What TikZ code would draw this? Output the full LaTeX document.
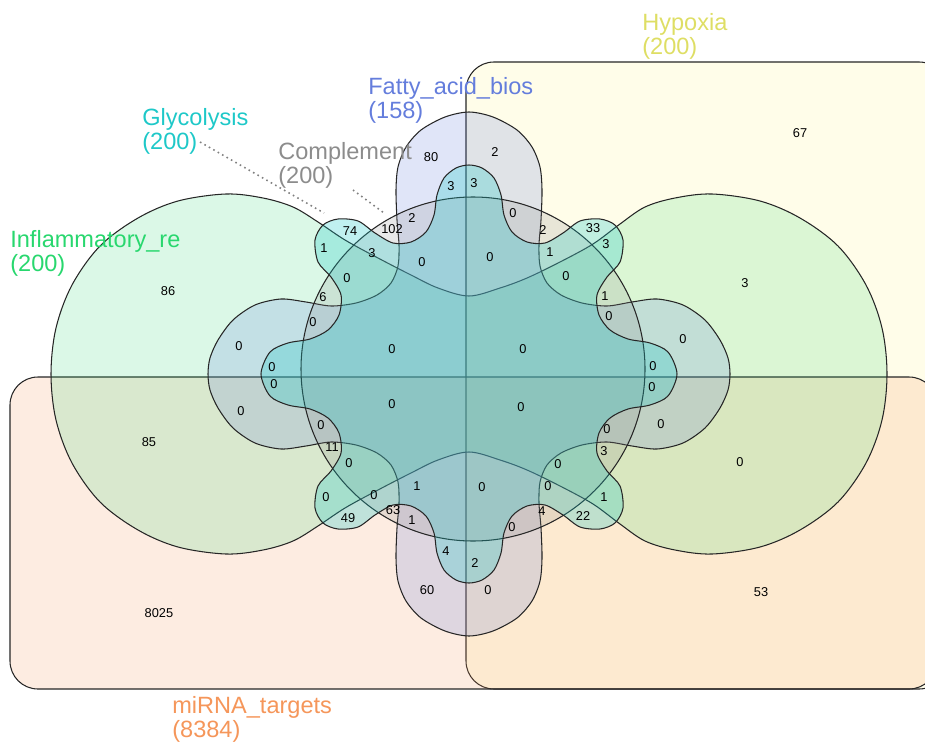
\documentclass[tikz,border=0pt]{standalone}
\usepackage{fontspec}
\setmainfont{Liberation Sans}
\usepackage{xcolor}
\usepackage{tikz}

\definecolor{hypcol}{RGB}{222,222,100}
\definecolor{hypfill}{RGB}{255,240,110}
\definecolor{mircol}{RGB}{245,150,90}
\definecolor{infcol}{RGB}{40,215,110}
\definecolor{fatcol}{RGB}{100,125,220}
\definecolor{glycol}{RGB}{30,200,200}
\definecolor{comcol}{RGB}{140,140,140}

\begin{document}
\begin{tikzpicture}[x=0.02cm,y=-0.02cm,
  num/.style={font=\fontsize{7.3}{8}\selectfont,inner sep=0pt},
  setlabel/.style={anchor=north west,align=left,inner sep=0pt,font=\fontsize{13.4}{11}\selectfont},
  setline/.style={draw=black!85,line width=0.6pt},
  leader/.style={dotted,line width=0.9pt,draw=gray}]
\useasboundingbox (0,0) rectangle (925,743);

\path[setline,fill=hypfill,fill opacity=0.15,rounded corners=0.56cm] (466,62) rectangle (947,689);
\path[setline,fill=mircol,fill opacity=0.18,rounded corners=0.56cm] (10,377) rectangle (937,689);

\path[setline,fill=infcol,fill opacity=0.17] plot[smooth cycle,tension=0.55] coordinates {
(469,296) (500,288) (527,278) (560,262) (593,244) (620,224) (645,207) (675,198) (712,194) (760,201) (800,218) (838,246) (866,285) (882,328)
(887,374)
(882,420) (866,463) (838,502) (800,530) (760,547) (712,554) (675,550) (645,541) (620,524) (593,504) (560,486) (527,470) (500,460)
(469,452)
(438,460) (411,473) (378,490) (345,508) (318,526) (293,541) (263,550) (226,554) (178,547) (138,530) (100,502) (72,463) (56,420)
(51,374)
(56,328) (72,285) (100,246) (138,218) (178,201) (226,194) (263,198) (293,207) (318,222) (345,240) (378,258) (411,275) (438,288)};

\path[setline,fill=fatcol,fill opacity=0.2] plot[smooth cycle,tension=0.5] coordinates {
(469,112) (493,117) (517,130) (532,147) (540,167) (542,190) (541,220) (539,245) (540,266) (547,283) (561,295) (582,303) (607,306) (632,302) (657,299) (683,305) (705,320) (720,340) (728,358)
(730,374)
(728,390) (720,408) (705,428) (683,443) (657,449) (632,446) (607,442) (582,445) (561,453) (547,465) (540,482) (539,503) (541,528) (542,558) (540,581) (532,601) (517,618) (493,631)
(469,636)
(445,631) (421,618) (406,601) (398,581) (396,558) (397,528) (399,503) (398,482) (391,465) (377,453) (356,445) (331,442) (306,446) (281,449) (255,443) (233,428) (218,408) (210,390)
(208,374)
(210,358) (218,340) (233,320) (255,305) (281,299) (306,302) (331,306) (356,303) (377,295) (391,283) (398,266) (399,245) (397,220) (396,190) (398,167) (406,147) (421,130) (445,117)};

\path[setline,fill=comcol,fill opacity=0.2] (473,369) circle[radius=172];

\path[setline,fill=glycol,fill opacity=0.28] plot[smooth cycle,tension=0.5] coordinates {
(469,165) (482,168) (494,178) (501,195) (504,215) (512,232) (527,242) (545,243) (563,233) (580,221) (600,219) (615,225) (623,240) (620,262) (607,277) (597,295) (599,315) (610,330) (628,339) (650,343) (668,352)
(677,374)
(668,396) (650,405) (628,409) (610,418) (599,433) (597,453) (607,471) (620,486) (623,508) (615,523) (600,529) (580,527) (563,515) (545,505) (527,506) (512,516) (504,533) (501,553) (494,570) (482,580)
(469,583)
(456,580) (444,570) (437,553) (434,533) (426,516) (411,506) (393,505) (375,515) (358,527) (338,529) (323,523) (315,508) (318,486) (331,471) (341,453) (339,433) (328,418) (310,409) (288,405) (270,396)
(261,374)
(270,352) (288,343) (310,339) (328,330) (339,315) (341,295) (331,277) (318,262) (315,240) (323,225) (338,219) (358,221) (375,233) (393,243) (411,242) (426,232) (434,215) (437,195) (444,178) (456,168)};

\node[setlabel,text=hypcol] (hyp) at (642,13) {Hypoxia\\(200)};
\node[setlabel,text=fatcol] (fat) at (368,77) {Fatty\_acid\_bios\\(158)};
\node[setlabel,text=glycol] (gly) at (142,108) {Glycolysis\\(200)};
\node[setlabel,text=comcol] (com) at (278,142) {Complement\\(200)};
\node[setlabel,text=infcol] (inf) at (10,230) {Inflammatory\_re\\(200)};
\node[setlabel,text=mircol] (mir) at (172,696) {miRNA\_targets\\(8384)};

\coordinate (glyfrom) at (200,142);
\coordinate (glyto) at (324,213);
\coordinate (comfrom) at (353,190);
\coordinate (comto) at (384,213);
\path[leader] (glyfrom) edge (glyto);
\path[leader] (comfrom) edge (comto);

\node[num] (r1) at (431,157) {80};
\node[num] (r2) at (495,152) {2};
\node[num] (r3) at (451,186) {3};
\node[num] (r4) at (474,183) {3};
\node[num] (r5) at (350,231) {74};
\node[num] (r6) at (392,229) {102};
\node[num] (r7) at (412,218) {2};
\node[num] (r8) at (324,248) {1};
\node[num] (r9) at (372,253) {3};
\node[num] (r10) at (422,262) {0};
\node[num] (r11) at (490,257) {0};
\node[num] (r12) at (513,213) {0};
\node[num] (r13) at (543,230) {2};
\node[num] (r14) at (593,228) {33};
\node[num] (r15) at (606,244) {3};
\node[num] (r16) at (550,252) {1};
\node[num] (r17) at (566,276) {0};
\node[num] (r18) at (800,133) {67};
\node[num] (r19) at (168,291) {86};
\node[num] (r20) at (745,283) {3};
\node[num] (r21) at (347,278) {0};
\node[num] (r22) at (323,297) {6};
\node[num] (r23) at (313,322) {0};
\node[num] (r24) at (605,296) {1};
\node[num] (r25) at (609,316) {0};
\node[num] (r26) at (683,339) {0};
\node[num] (r27) at (239,346) {0};
\node[num] (r28) at (272,367) {0};
\node[num] (r29) at (274,384) {0};
\node[num] (r30) at (241,411) {0};
\node[num] (r31) at (392,349) {0};
\node[num] (r32) at (523,349) {0};
\node[num] (r33) at (392,404) {0};
\node[num] (r34) at (521,407) {0};
\node[num] (r35) at (653,366) {0};
\node[num] (r36) at (652,387) {0};
\node[num] (r37) at (661,424) {0};
\node[num] (r38) at (149,442) {85};
\node[num] (r39) at (321,425) {0};
\node[num] (r40) at (332,447) {11};
\node[num] (r41) at (349,463) {0};
\node[num] (r42) at (607,429) {0};
\node[num] (r43) at (604,451) {3};
\node[num] (r44) at (558,464) {0};
\node[num] (r45) at (740,462) {0};
\node[num] (r46) at (417,486) {1};
\node[num] (r47) at (482,487) {0};
\node[num] (r48) at (326,497) {0};
\node[num] (r49) at (374,495) {0};
\node[num] (r50) at (393,510) {63};
\node[num] (r51) at (412,520) {1};
\node[num] (r52) at (548,486) {0};
\node[num] (r53) at (512,527) {0};
\node[num] (r54) at (542,511) {4};
\node[num] (r55) at (583,516) {22};
\node[num] (r56) at (604,497) {1};
\node[num] (r57) at (348,518) {49};
\node[num] (r58) at (446,551) {4};
\node[num] (r59) at (475,563) {2};
\node[num] (r60) at (427,590) {60};
\node[num] (r61) at (488,590) {0};
\node[num] (r62) at (159,613) {8025};
\node[num] (r63) at (761,592) {53};
\end{tikzpicture}
\end{document}
